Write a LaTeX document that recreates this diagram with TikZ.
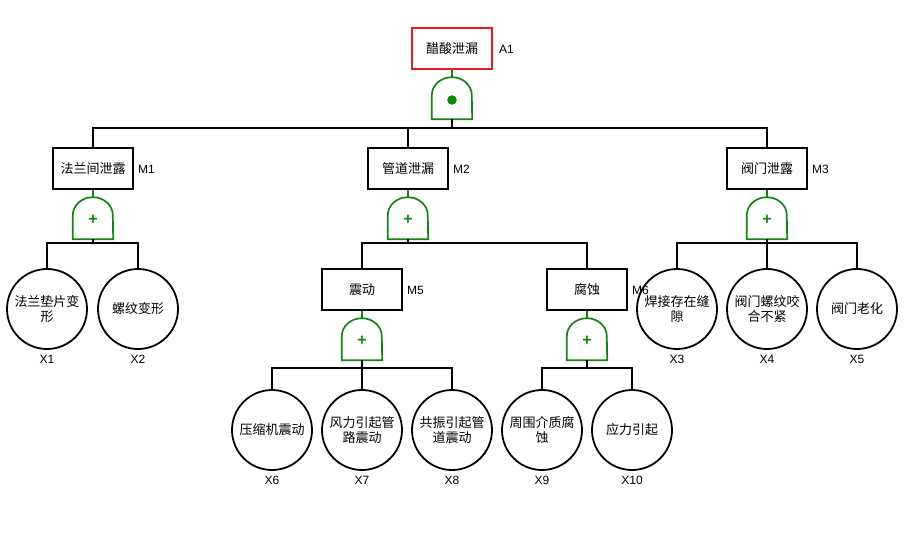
\documentclass[tikz,border=0pt]{standalone}
\usepackage{fontspec}
\setmainfont{Liberation Sans}
\newfontfamily\cjk{Noto Sans CJK SC}
\definecolor{gatecol}{RGB}{16,134,16}
\definecolor{topred}{RGB}{232,28,36}
\tikzset{
  evbox/.style={draw=black,line width=1.8pt,minimum width=80pt,minimum height=41pt,inner sep=0pt,font=\cjk\fontsize{13}{14}\selectfont},
  topbox/.style={evbox,draw=topred},
  basic/.style={draw=black,line width=1.8pt,circle,minimum size=80pt,inner sep=0pt,align=center,font=\cjk\fontsize{13}{15}\selectfont},
  gatenode/.style={draw=none,minimum width=40pt,minimum height=42pt,inner sep=0pt},
  gateline/.style={draw=gatecol,line width=1.7pt},
  conn/.style={draw=black,line width=1.7pt},
  gconn/.style={draw=gatecol,line width=1.7pt},
  lbl/.style={font=\fontsize{12}{14}\selectfont,inner sep=0pt}
}
\newcommand\gatesym[4]{%
  \node[gatenode] (#1) at (#2,#3) {};
  \draw[gateline] (#1.south west) -- ([yshift=24pt]#1.south west) arc[start angle=180,end angle=0,x radius=20pt,y radius=18pt] -- (#1.south east) -- cycle;
  \node[inner sep=0pt] (#1s) at ([yshift=-2pt]#1.center) {#4};
}
\newcommand\andsym{\tikz\fill[gatecol] (0,0) circle (4.8pt);}
\newcommand\orsym{\textcolor{gatecol}{\fontsize{16}{16}\selectfont\bfseries +}}
\begin{document}
\begin{tikzpicture}[x=1pt,y=-1pt]
\useasboundingbox (0,0) rectangle (914,550);
% top
\node[topbox] (A1) at (452,48.5) {醋酸泄漏};
\node[lbl,anchor=west] (lA1) at (499,49) {A1};
\gatesym{gA}{452}{98}{\andsym}
% level 1
\node[evbox] (M1) at (93,168.5) {法兰间泄露};
\node[lbl,anchor=west] (lM1) at (138,169) {M1};
\node[evbox] (M2) at (408,168.5) {管道泄漏};
\node[lbl,anchor=west] (lM2) at (453,169) {M2};
\node[evbox] (M3) at (767,168.5) {阀门泄露};
\node[lbl,anchor=west] (lM3) at (812,169) {M3};
\gatesym{g1}{93}{218}{\orsym}
\gatesym{g2}{408}{218}{\orsym}
\gatesym{g3}{767}{218}{\orsym}
% level 2
\node[evbox] (M5) at (362,289.5) {震动};
\node[lbl,anchor=west] (lM5) at (407,290) {M5};
\node[evbox] (M6) at (587,289.5) {腐蚀};
\node[lbl,anchor=west] (lM6) at (632,290) {M6};
\gatesym{g5}{362}{339}{\orsym}
\gatesym{g6}{587}{339}{\orsym}
% basic events
\node[basic] (X1) at (47,309) {法兰垫片变\\形};
\node[basic] (X2) at (138,309) {螺纹变形};
\node[basic] (X3) at (677,309) {焊接存在缝\\隙};
\node[basic] (X4) at (767,309) {阀门螺纹咬\\合不紧};
\node[basic] (X5) at (857,309) {阀门老化};
\node[basic] (X6) at (272,430) {压缩机震动};
\node[basic] (X7) at (362,430) {风力引起管\\路震动};
\node[basic] (X8) at (452,430) {共振引起管\\道震动};
\node[basic] (X9) at (542,430) {周围介质腐\\蚀};
\node[basic] (X10) at (632,430) {应力引起};
\foreach \n/\x/\y in {X1/47/359,X2/138/359,X3/677/359,X4/767/359,X5/857/359,X6/272/480,X7/362/480,X8/452/480,X9/542/480,X10/632/480}
  \node[lbl] (l\n) at (\x,\y) {\n};
% connectors
\draw[gconn] (A1.south) -- (gA.north);
\draw[gconn] (M1.south) -- (g1.north);
\draw[gconn] (M2.south) -- (g2.north);
\draw[gconn] (M3.south) -- (g3.north);
\draw[gconn] (M5.south) -- (g5.north);
\draw[gconn] (M6.south) -- (g6.north);
\foreach \c in {M1,M2,M3} \draw[conn] (gA.south) -- ++(0,9) -| (\c.north);
\foreach \c in {X1,X2} \draw[conn] (g1.south) -- ++(0,4) -| (\c.north);
\foreach \c in {M5,M6} \draw[conn] (g2.south) -- ++(0,4) -| (\c.north);
\foreach \c in {X3,X4,X5} \draw[conn] (g3.south) -- ++(0,4) -| (\c.north);
\foreach \c in {X6,X7,X8} \draw[conn] (g5.south) -- ++(0,8) -| (\c.north);
\foreach \c in {X9,X10} \draw[conn] (g6.south) -- ++(0,8) -| (\c.north);
\end{tikzpicture}
\end{document}
